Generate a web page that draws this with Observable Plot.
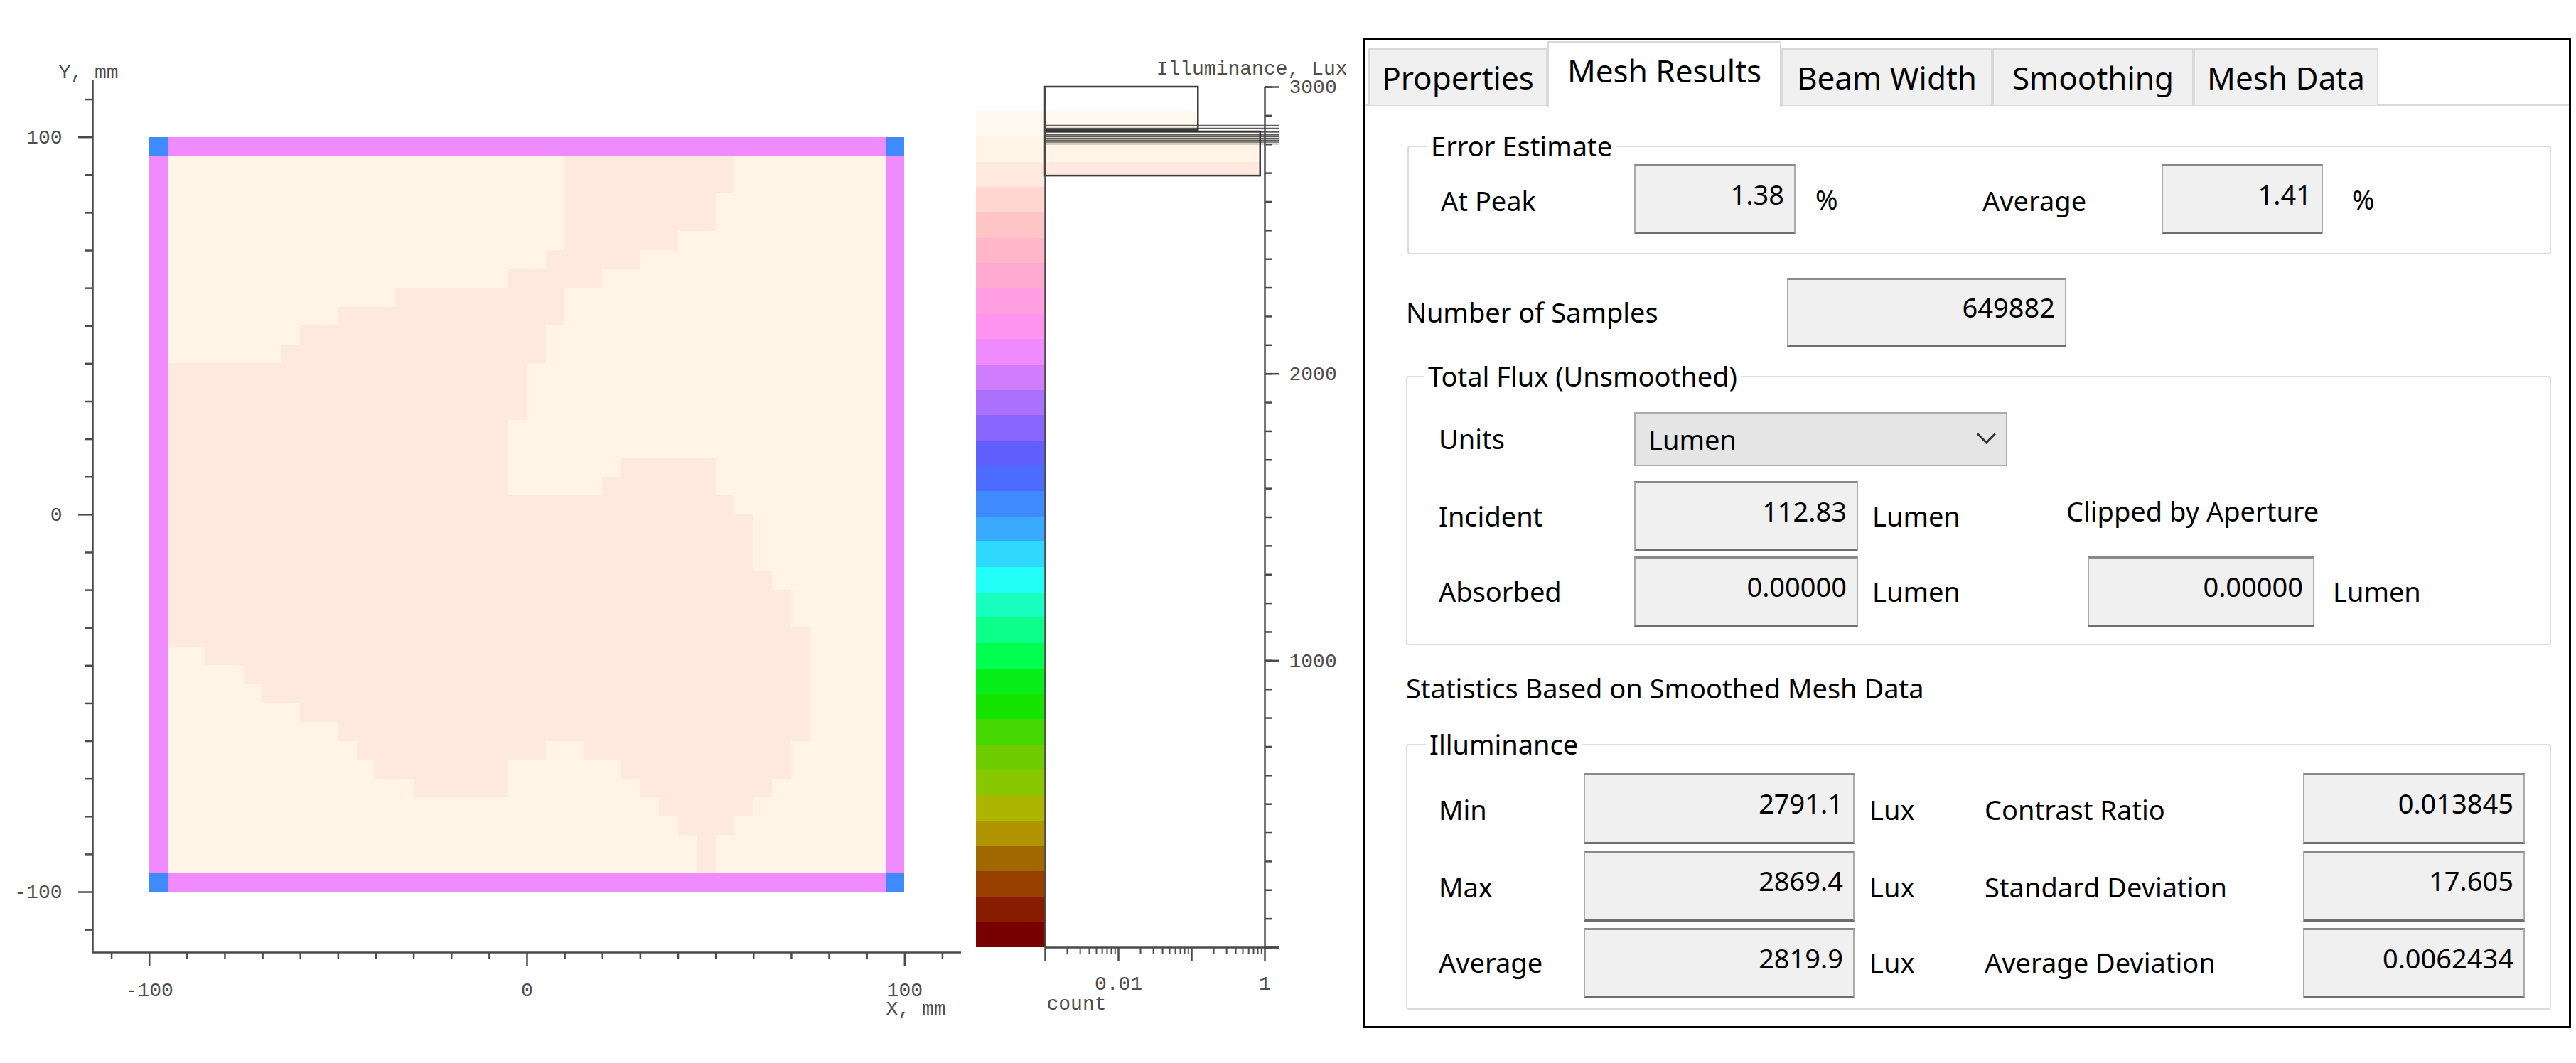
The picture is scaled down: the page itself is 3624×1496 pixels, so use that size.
<!DOCTYPE html>
<html>
<head>
<meta charset="utf-8">
<script src="https://cdn.jsdelivr.net/npm/d3@7"></script>
<script src="https://cdn.jsdelivr.net/npm/@observablehq/plot@0.6"></script>
<style>
html,body{margin:0;padding:0;background:#fff;}
body{width:3624px;height:1496px;position:relative;overflow:hidden;font-family:"Noto Sans",sans-serif;}
#map{position:absolute;left:0;top:0;}
#hist{position:absolute;left:1360px;top:0;}
#panel{position:absolute;left:1918px;top:53px;width:1699px;height:1394px;border:3px solid #000;box-sizing:border-box;background:#fff;}
.t{position:absolute;font-size:38px;line-height:1;transform:translateY(-50%);white-space:nowrap;color:#000;}
.box{position:absolute;background:#F0F0F0;border:2px solid #ABABAB;border-top:3px solid #8A8A8A;border-bottom:3px solid #6E6E6E;box-sizing:border-box;font-size:38px;line-height:1;display:flex;align-items:center;justify-content:flex-end;padding:0 14px 16px 0;color:#000;}
.grp{position:absolute;border:2px solid #DCDCDC;border-radius:4px;box-sizing:border-box;}
.gt{position:absolute;background:#fff;padding:0 5px;font-size:38px;line-height:1;transform:translateY(-50%);white-space:nowrap;}
.tab{position:absolute;top:68px;height:80px;background:#F0F0F0;border:2px solid #D9D9D9;border-bottom:none;box-sizing:border-box;font-size:44px;line-height:1;display:flex;align-items:center;justify-content:center;white-space:nowrap;}
.tab.sel{top:58px;height:92px;background:#fff;padding-bottom:12px;z-index:2;}
#strip{position:absolute;left:1921px;top:147px;width:1693px;height:2px;background:#D9D9D9;}
.dd{position:absolute;background:#E5E5E5;border:2px solid #ACACAC;box-sizing:border-box;font-size:38px;line-height:1;display:flex;align-items:center;padding-left:18px;}
.chev{position:absolute;width:16px;height:16px;border-right:3px solid #333;border-bottom:3px solid #333;transform:rotate(45deg);}
</style>
</head>
<body>
<div id="map"></div>
<div id="hist"></div>
<div id="panel"></div>
<div id="strip"></div>
<div class="tab" style="left:1925px;width:252px;">Properties</div>
<div class="tab sel" style="left:2177px;width:329px;">Mesh Results</div>
<div class="tab" style="left:2506px;width:297px;">Beam Width</div>
<div class="tab" style="left:2803px;width:283px;">Smoothing</div>
<div class="tab" style="left:3086px;width:260px;">Mesh Data</div>

<div class="grp" style="left:1980px;top:205px;width:1609px;height:153px;"></div>
<div class="gt" style="left:2008px;top:205px;">Error Estimate</div>
<div class="t" style="left:2027px;top:282px;">At Peak</div>
<div class="box" style="left:2299px;top:231px;width:227px;height:99px;">1.38</div>
<div class="t" style="left:2554px;top:280px;">%</div>
<div class="t" style="left:2789px;top:282px;">Average</div>
<div class="box" style="left:3041px;top:231px;width:227px;height:99px;">1.41</div>
<div class="t" style="left:3309px;top:280px;">%</div>

<div class="t" style="left:1978px;top:439px;">Number of Samples</div>
<div class="box" style="left:2514px;top:391px;width:393px;height:97px;">649882</div>

<div class="grp" style="left:1978px;top:529px;width:1611px;height:379px;"></div>
<div class="gt" style="left:2004px;top:529px;">Total Flux (Unsmoothed)</div>
<div class="t" style="left:2024px;top:617px;">Units</div>
<div class="dd" style="left:2299px;top:580px;width:525px;height:76px;">Lumen<div class="chev" style="left:484px;top:20px;"></div></div>
<div class="t" style="left:2024px;top:726px;">Incident</div>
<div class="box" style="left:2299px;top:677px;width:315px;height:99px;">112.83</div>
<div class="t" style="left:2634px;top:726px;">Lumen</div>
<div class="t" style="left:2907px;top:719px;">Clipped by Aperture</div>
<div class="t" style="left:2024px;top:832px;">Absorbed</div>
<div class="box" style="left:2299px;top:783px;width:315px;height:99px;">0.00000</div>
<div class="t" style="left:2634px;top:832px;">Lumen</div>
<div class="box" style="left:2937px;top:783px;width:319px;height:99px;">0.00000</div>
<div class="t" style="left:3282px;top:832px;">Lumen</div>

<div class="t" style="left:1978px;top:968px;">Statistics Based on Smoothed Mesh Data</div>
<div class="grp" style="left:1978px;top:1047px;width:1611px;height:374px;"></div>
<div class="gt" style="left:2006px;top:1047px;">Illuminance</div>
<div class="t" style="left:2024px;top:1139px;">Min</div>
<div class="box" style="left:2228px;top:1088px;width:381px;height:100px;">2791.1</div>
<div class="t" style="left:2630px;top:1139px;">Lux</div>
<div class="t" style="left:2792px;top:1139px;">Contrast Ratio</div>
<div class="box" style="left:3240px;top:1088px;width:312px;height:100px;">0.013845</div>
<div class="t" style="left:2024px;top:1248px;">Max</div>
<div class="box" style="left:2228px;top:1197px;width:381px;height:100px;">2869.4</div>
<div class="t" style="left:2630px;top:1248px;">Lux</div>
<div class="t" style="left:2792px;top:1248px;">Standard Deviation</div>
<div class="box" style="left:3240px;top:1197px;width:312px;height:100px;">17.605</div>
<div class="t" style="left:2024px;top:1354px;">Average</div>
<div class="box" style="left:2228px;top:1306px;width:381px;height:99px;">2819.9</div>
<div class="t" style="left:2630px;top:1354px;">Lux</div>
<div class="t" style="left:2792px;top:1354px;">Average Deviation</div>
<div class="box" style="left:3240px;top:1306px;width:312px;height:99px;">0.0062434</div>

<script>
// ---------- data ----------
// colour bar: 33 bands from bottom (0 lux) to top (~2915 lux)
const colorbarTop = 2915;
const bandColors = [
  "#780000","#881C00","#984000","#A06800","#B09400","#ACB600","#88C800","#6ECC00",
  "#44D800","#14E400","#08EE18","#00FF50","#0CFF88","#18FFC0","#22FFF8","#2ED8FF",
  "#3AAAFF","#3F8AFF","#4C6CFF","#6060FF","#8866FF","#AC70FF","#D07CFF","#F08AFF",
  "#FF94F0","#FF9EE0","#FFA8D2","#FFB6C8","#FFC4C6","#FFD6D0","#FFE9DE","#FFF4E6","#FFF9EF"
];

// illuminance mesh (40 x 40 cells of 5 mm, -100..100 mm)
const meshMin = -100, meshMax = 100, cellSize = 5, meshCells = 40;
const meshValue = {corner: 1545, edge: 2075, high: 2785, low: 2695};
// for interior rows 1..38 (top to bottom): column spans (1..38) at the lower level
const lowSpans = [
  [[22,30]], [[22,30]], [[22,29]], [[22,29]], [[22,27]], [[21,25]], [[19,23]],
  [[13,21]], [[10,21]], [[8,20]], [[7,20]], [[1,19]], [[1,19]], [[1,19]],
  [[1,18]], [[1,18]], [[1,18],[25,29]], [[1,18],[24,29]], [[1,30]], [[1,31]],
  [[1,31]], [[1,31]], [[1,32]], [[1,33]], [[1,33]], [[1,34]], [[3,34]],
  [[5,34]], [[6,34]], [[8,34]], [[10,34]], [[11,20],[23,33]], [[12,18],[25,33]],
  [[14,18],[26,32]], [[27,31]], [[28,30]], [[29,29]], [[29,29]]
];

// histogram (illuminance bins vs count fraction)
const histLo = [2849, 2690];
const histHi = [3000, 2844];
const histCount = [0.123, 0.87];
const histLines = [2866, 2856, 2843, 2833, 2827, 2821, 2815, 2808, 2802];

// axes
const mapXDomain = [-115, 115], mapYDomain = [-116, 115];
const mapMajorTicks = [-100, 0, 100];
const mapMinorTicks = [-110,-90,-80,-70,-60,-50,-40,-30,-20,-10,10,20,30,40,50,60,70,80,90,110];
const histXDomain = [0.001, 1];
const histXMajor = [0.001, 0.01, 0.1, 1];
const histXLabels = [0.01, 1];
const histYDomain = [0, 3000];
const histYLabels = [1000, 2000, 3000];

// ---------- build ----------
const edges = d3.range(0, bandColors.length + 1).map(i => i * colorbarTop / bandColors.length);
const colorScale = {type: "threshold", domain: edges.slice(1, -1), range: bandColors};
const bands = bandColors.map((c, i) => ({lo: edges[i], hi: edges[i + 1], mid: (edges[i] + edges[i + 1]) / 2}));

const cells = [];
for (let r = 0; r < meshCells; r++) {
  for (let c = 0; c < meshCells; c++) {
    const br = r === 0 || r === meshCells - 1, bc = c === 0 || c === meshCells - 1;
    let v;
    if (br && bc) v = meshValue.corner;
    else if (br || bc) v = meshValue.edge;
    else v = lowSpans[r - 1].some(([a, b]) => c >= a && c <= b) ? meshValue.low : meshValue.high;
    cells.push({x1: meshMin + c * cellSize, x2: meshMin + (c + 1) * cellSize,
                y1: meshMax - (r + 1) * cellSize, y2: meshMax - r * cellSize, v});
  }
}

const hist = histLo.map((lo, i) => ({lo, hi: histHi[i], count: histCount[i]}));
const histFill = [];
for (const h of hist) for (const b of bands) {
  const lo = Math.max(h.lo, b.lo), hi = Math.min(h.hi, b.hi);
  if (hi > lo) histFill.push({lo, hi, count: h.count, mid: b.mid});
}

const axisColor = "#4a4a4a", textColor = "#4d4d4d";
const font = "'Liberation Mono', 'DejaVu Sans Mono', monospace";
const baseStyle = {fontFamily: font, fontSize: "28px", color: textColor, background: "none", overflow: "visible"};

const mapPlot = Plot.plot({
  width: 1360, height: 1440,
  marginLeft: 130, marginRight: 8, marginTop: 113, marginBottom: 100,
  x: {domain: mapXDomain, label: null},
  y: {domain: mapYDomain, label: null},
  color: colorScale,
  style: baseStyle,
  marks: [
    Plot.rect(cells, {x1: "x1", x2: "x2", y1: "y1", y2: "y2", fill: "v", shapeRendering: "crispEdges"}),
    Plot.ruleX([mapXDomain[0]], {stroke: axisColor, strokeWidth: 2.5}),
    Plot.ruleY([mapYDomain[0]], {stroke: axisColor, strokeWidth: 2.5}),
    Plot.axisX(mapMinorTicks, {anchor: "bottom", tickSize: 10, tickFormat: () => "", stroke: axisColor, strokeWidth: 2.5}),
    Plot.axisX(mapMajorTicks, {anchor: "bottom", tickSize: 20, tickPadding: 22, tickFormat: d => String(d), stroke: axisColor, strokeWidth: 2.5, fontSize: 28}),
    Plot.axisY(mapMinorTicks, {anchor: "left", tickSize: 10, tickFormat: () => "", stroke: axisColor, strokeWidth: 2.5}),
    Plot.axisY(mapMajorTicks, {anchor: "left", tickSize: 20, tickPadding: 23, tickFormat: d => String(d), stroke: axisColor, strokeWidth: 2.5, fontSize: 28}),
    Plot.text(["X, mm"], {frameAnchor: "bottom-right", dx: -22, dy: 79, textAnchor: "end", lineAnchor: "middle", fontSize: 28}),
    Plot.text(["Y, mm"], {frameAnchor: "top-left", dx: -6, dy: -12, textAnchor: "middle", lineAnchor: "middle", fontSize: 28})
  ]
});
document.getElementById("map").append(mapPlot);

const histPlot = Plot.plot({
  width: 555, height: 1440,
  marginLeft: 110, marginRight: 136, marginTop: 122, marginBottom: 107,
  x: {type: "log", domain: histXDomain, label: null},
  y: {domain: histYDomain, label: null},
  color: colorScale,
  style: baseStyle,
  marks: [
    Plot.rect(bands, {y1: "lo", y2: "hi", fill: "mid", insetLeft: -97, insetRight: 309, shapeRendering: "crispEdges"}),
    Plot.rect(histFill, {x1: () => histXDomain[0], x2: "count", y1: "lo", y2: "hi", fill: "mid"}),
    Plot.rect(hist, {x1: () => histXDomain[0], x2: "count", y1: "lo", y2: "hi", fill: "none", stroke: "#3a3a3a", strokeWidth: 2.5}),
    Plot.ruleY(histLines, {stroke: "#333", strokeOpacity: 0.8, strokeWidth: 1.6, insetRight: -21}),
    Plot.ruleX([histXDomain[0]], {stroke: axisColor, strokeWidth: 2.5}),
    Plot.ruleX([histXDomain[1]], {stroke: axisColor, strokeWidth: 2.5}),
    Plot.ruleY([histYDomain[0]], {stroke: axisColor, strokeWidth: 2.5, insetRight: -21}),
    Plot.axisX(histXMajor.slice(0, 3).flatMap(d => [2,3,4,5,6,7,8,9].map(m => m * d)), {anchor: "bottom", tickSize: 10, tickFormat: () => "", stroke: axisColor, strokeWidth: 2}),
    Plot.axisX(histXMajor, {anchor: "bottom", tickSize: 20, tickPadding: 20, tickFormat: d => histXLabels.includes(d) ? String(d) : "", stroke: axisColor, strokeWidth: 2.5, fontSize: 28}),
    Plot.axisY(d3.range(histYDomain[0], histYDomain[1] + 1, 100), {anchor: "right", tickSize: 10, tickFormat: () => "", stroke: axisColor, strokeWidth: 2.5}),
    Plot.axisY(d3.range(histYDomain[0], histYDomain[1] + 1, 1000), {anchor: "right", tickSize: 20, tickPadding: 14, tickFormat: d => histYLabels.includes(d) ? String(d) : "", stroke: axisColor, strokeWidth: 2.5, fontSize: 28}),
    Plot.text(["count"], {frameAnchor: "bottom-left", dx: 2, dy: 79, textAnchor: "start", lineAnchor: "middle", fontSize: 28}),
    Plot.text(["Illuminance, Lux"], {frameAnchor: "top-right", dx: 116, dy: -26, textAnchor: "end", lineAnchor: "middle", fontSize: 28})
  ]
});
document.getElementById("hist").append(histPlot);
</script>
</body>
</html>
